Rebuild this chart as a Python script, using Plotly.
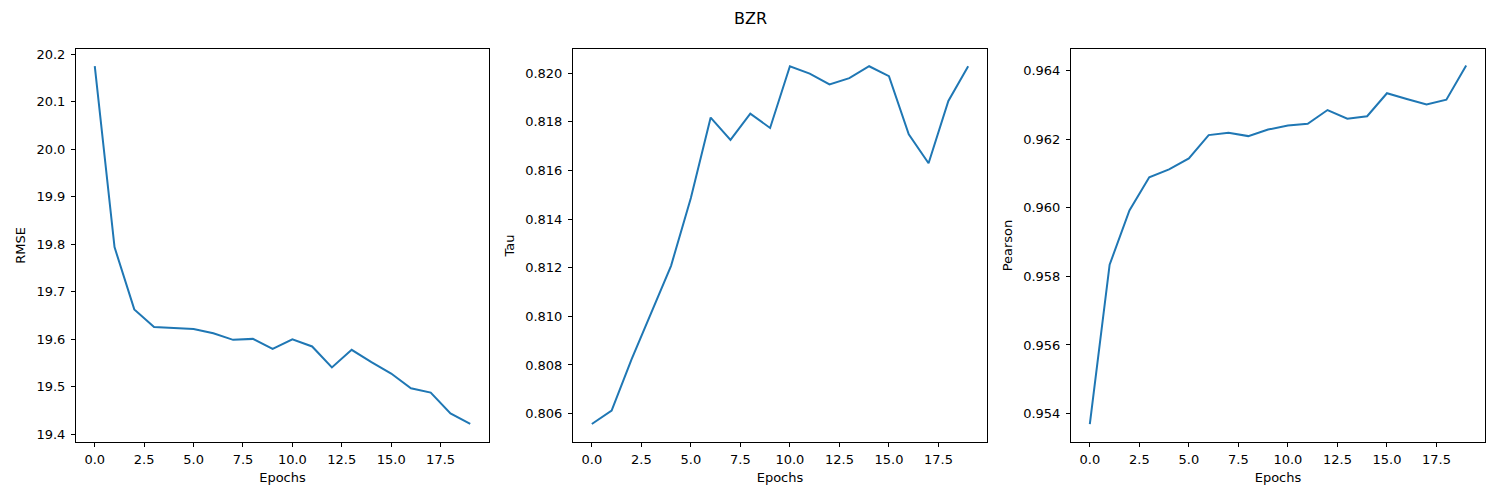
import plotly.graph_objects as go

# ~~~DATA~~~
epochs = list(range(20))
rmse = [20.175, 19.794, 19.663, 19.626, 19.624, 19.622, 19.613, 19.599, 19.601, 19.580,
        19.600, 19.585, 19.541, 19.578, 19.552, 19.528, 19.497, 19.488, 19.444, 19.422]
tau = [0.80557, 0.80612, 0.80822, 0.81015, 0.81208, 0.81487, 0.81818, 0.81726, 0.81834, 0.81775,
       0.82029, 0.81999, 0.81954, 0.81980, 0.82029, 0.81988, 0.81749, 0.81630, 0.81886, 0.82029]
pearson = [0.95369, 0.95834, 0.95992, 0.96089, 0.96112, 0.96144, 0.96212, 0.96219, 0.96209, 0.96228,
           0.96240, 0.96245, 0.96285, 0.96260, 0.96267, 0.96334, 0.96317, 0.96301, 0.96315, 0.96415]

x_ticks = [0, 2.5, 5, 7.5, 10, 12.5, 15, 17.5]
x_labels = ["0.0", "2.5", "5.0", "7.5", "10.0", "12.5", "15.0", "17.5"]
rmse_ticks = [19.4, 19.5, 19.6, 19.7, 19.8, 19.9, 20.0, 20.1, 20.2]
tau_ticks = [0.806, 0.808, 0.810, 0.812, 0.814, 0.816, 0.818, 0.820]
pearson_ticks = [0.954, 0.956, 0.958, 0.960, 0.962, 0.964]

# page body adds an 8px offset, so pixel positions are shifted back by it
OFF = 8
W, H = 1500, 500

def xdom(left, right):
    return [(left - OFF) / W, (right - OFF) / W]

panels = [
    ("RMSE", rmse, rmse_ticks, ".1f", [19.384, 20.211], xdom(76, 489)),
    ("Tau", tau, tau_ticks, ".3f", [0.80483, 0.82100], xdom(573, 987)),
    ("Pearson", pearson, pearson_ticks, ".3f", [0.95317, 0.96463], xdom(1071, 1485)),
]
ydom = [(H - (442 - OFF)) / H, (H - (49 - OFF)) / H]

FONT = "DejaVu Sans"
fig = go.Figure()
layout = {}

for i, (name, vals, yticks, fmt, yrange, xd) in enumerate(panels, start=1):
    sfx = "" if i == 1 else str(i)
    fig.add_trace(go.Scatter(x=epochs, y=vals, mode="lines", name=name, showlegend=False,
                             line={"color": "#1f77b4", "width": 2},
                             xaxis="x" + sfx, yaxis="y" + sfx))
    axis_common = dict(showgrid=False, zeroline=False, showline=True, mirror=True, automargin=False,
                       linecolor="black", linewidth=1, ticks="outside", ticklen=4,
                       tickcolor="black", tickfont={"family": FONT, "size": 13, "color": "black"})
    layout["xaxis" + sfx] = dict(axis_common, domain=xd, range=[-0.95, 19.95],
                                 tickvals=x_ticks, ticktext=x_labels, anchor="y" + sfx,
                                 ticklabelstandoff=1,
                                 title={"text": "Epochs", "standoff": 7,
                                        "font": {"family": FONT, "size": 13, "color": "black"}})
    layout["yaxis" + sfx] = dict(axis_common, domain=ydom, range=yrange,
                                 tickvals=yticks, tickformat=fmt, anchor="x" + sfx,
                                 ticklabelstandoff=3,
                                 title={"text": name, "standoff": 7,
                                        "font": {"family": FONT, "size": 13, "color": "black"}})

fig.update_layout(**layout)
fig.update_layout(width=W, height=H, plot_bgcolor="white", paper_bgcolor="white",
                  margin={"l": 0, "r": 0, "t": 0, "b": 0},
                  font={"family": FONT},
                  annotations=[dict(text="BZR", x=(750 - OFF) / W, y=(H - (18 - OFF)) / H,
                                    xref="paper", yref="paper",
                                    showarrow=False, yanchor="middle",
                                    font={"family": FONT, "size": 16, "color": "black"})])

fig.write_html("out.html")
